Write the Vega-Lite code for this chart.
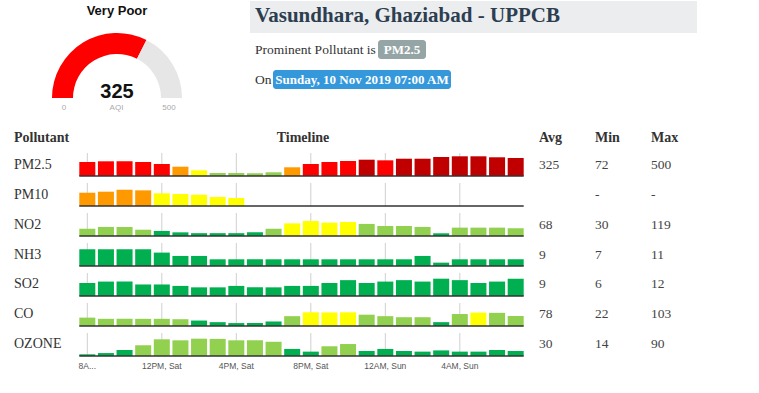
{
  "$schema": "https://vega.github.io/schema/vega-lite/v6.json",
  "width": 759,
  "height": 393,
  "autosize": {"type": "fit", "contains": "padding"},
  "padding": 0,
  "background": "white",
  "config": {"view": {"stroke": null}, "axis": {"disable": true}, "legend": {"disable": true}, "font": "Liberation Serif"},
  "datasets": {
    "bars": [
      {"p":"PM2.5","t":"8AM, Sat","v":355,"c":"Very Poor"},{"p":"PM2.5","t":"9AM, Sat","v":373,"c":"Very Poor"},{"p":"PM2.5","t":"10AM, Sat","v":373,"c":"Very Poor"},{"p":"PM2.5","t":"11AM, Sat","v":355,"c":"Very Poor"},{"p":"PM2.5","t":"12PM, Sat","v":305,"c":"Very Poor"},{"p":"PM2.5","t":"1PM, Sat","v":236,"c":"Poor"},{"p":"PM2.5","t":"2PM, Sat","v":145,"c":"Moderate"},{"p":"PM2.5","t":"3PM, Sat","v":76,"c":"Satisfactory"},{"p":"PM2.5","t":"4PM, Sat","v":76,"c":"Satisfactory"},{"p":"PM2.5","t":"5PM, Sat","v":72,"c":"Satisfactory"},{"p":"PM2.5","t":"6PM, Sat","v":94,"c":"Satisfactory"},{"p":"PM2.5","t":"7PM, Sat","v":221,"c":"Poor"},{"p":"PM2.5","t":"8PM, Sat","v":305,"c":"Very Poor"},{"p":"PM2.5","t":"9PM, Sat","v":355,"c":"Very Poor"},{"p":"PM2.5","t":"10PM, Sat","v":381,"c":"Very Poor"},{"p":"PM2.5","t":"11PM, Sat","v":414,"c":"Severe"},{"p":"PM2.5","t":"12AM, Sun","v":398,"c":"Very Poor"},{"p":"PM2.5","t":"1AM, Sun","v":439,"c":"Severe"},{"p":"PM2.5","t":"2AM, Sun","v":439,"c":"Severe"},{"p":"PM2.5","t":"3AM, Sun","v":482,"c":"Severe"},{"p":"PM2.5","t":"4AM, Sun","v":500,"c":"Severe"},{"p":"PM2.5","t":"5AM, Sun","v":500,"c":"Severe"},{"p":"PM2.5","t":"6AM, Sun","v":475,"c":"Severe"},{"p":"PM2.5","t":"7AM, Sun","v":457,"c":"Severe"},
      {"p":"PM10","t":"8AM, Sat","v":206,"c":"Poor"},{"p":"PM10","t":"9AM, Sat","v":222,"c":"Poor"},{"p":"PM10","t":"10AM, Sat","v":253,"c":"Poor"},{"p":"PM10","t":"11AM, Sat","v":243,"c":"Poor"},{"p":"PM10","t":"12PM, Sat","v":197,"c":"Moderate"},{"p":"PM10","t":"1PM, Sat","v":186,"c":"Moderate"},{"p":"PM10","t":"2PM, Sat","v":175,"c":"Moderate"},{"p":"PM10","t":"3PM, Sat","v":140,"c":"Moderate"},{"p":"PM10","t":"4PM, Sat","v":124,"c":"Moderate"},{"p":"PM10","t":"5PM, Sat","v":null},{"p":"PM10","t":"6PM, Sat","v":null},{"p":"PM10","t":"7PM, Sat","v":null},{"p":"PM10","t":"8PM, Sat","v":null},{"p":"PM10","t":"9PM, Sat","v":null},{"p":"PM10","t":"10PM, Sat","v":null},{"p":"PM10","t":"11PM, Sat","v":null},{"p":"PM10","t":"12AM, Sun","v":null},{"p":"PM10","t":"1AM, Sun","v":null},{"p":"PM10","t":"2AM, Sun","v":null},{"p":"PM10","t":"3AM, Sun","v":null},{"p":"PM10","t":"4AM, Sun","v":null},{"p":"PM10","t":"5AM, Sun","v":null},{"p":"PM10","t":"6AM, Sun","v":null},{"p":"PM10","t":"7AM, Sun","v":null},
      {"p":"NO2","t":"8AM, Sat","v":63,"c":"Satisfactory"},{"p":"NO2","t":"9AM, Sat","v":76,"c":"Satisfactory"},{"p":"NO2","t":"10AM, Sat","v":76,"c":"Satisfactory"},{"p":"NO2","t":"11AM, Sat","v":56,"c":"Satisfactory"},{"p":"NO2","t":"12PM, Sat","v":47,"c":"Good"},{"p":"NO2","t":"1PM, Sat","v":37,"c":"Good"},{"p":"NO2","t":"2PM, Sat","v":31,"c":"Good"},{"p":"NO2","t":"3PM, Sat","v":31,"c":"Good"},{"p":"NO2","t":"4PM, Sat","v":31,"c":"Good"},{"p":"NO2","t":"5PM, Sat","v":37,"c":"Good"},{"p":"NO2","t":"6PM, Sat","v":63,"c":"Satisfactory"},{"p":"NO2","t":"7PM, Sat","v":102,"c":"Moderate"},{"p":"NO2","t":"8PM, Sat","v":119,"c":"Moderate"},{"p":"NO2","t":"9PM, Sat","v":107,"c":"Moderate"},{"p":"NO2","t":"10PM, Sat","v":112,"c":"Moderate"},{"p":"NO2","t":"11PM, Sat","v":98,"c":"Satisfactory"},{"p":"NO2","t":"12AM, Sun","v":83,"c":"Satisfactory"},{"p":"NO2","t":"1AM, Sun","v":83,"c":"Satisfactory"},{"p":"NO2","t":"2AM, Sun","v":76,"c":"Satisfactory"},{"p":"NO2","t":"3AM, Sun","v":30,"c":"Good"},{"p":"NO2","t":"4AM, Sun","v":71,"c":"Satisfactory"},{"p":"NO2","t":"5AM, Sun","v":71,"c":"Satisfactory"},{"p":"NO2","t":"6AM, Sun","v":71,"c":"Satisfactory"},{"p":"NO2","t":"7AM, Sun","v":66,"c":"Satisfactory"},
      {"p":"NH3","t":"8AM, Sat","v":11,"c":"Good"},{"p":"NH3","t":"9AM, Sat","v":11,"c":"Good"},{"p":"NH3","t":"10AM, Sat","v":11,"c":"Good"},{"p":"NH3","t":"11AM, Sat","v":11,"c":"Good"},{"p":"NH3","t":"12PM, Sat","v":10,"c":"Good"},{"p":"NH3","t":"1PM, Sat","v":9,"c":"Good"},{"p":"NH3","t":"2PM, Sat","v":9,"c":"Good"},{"p":"NH3","t":"3PM, Sat","v":8,"c":"Good"},{"p":"NH3","t":"4PM, Sat","v":8,"c":"Good"},{"p":"NH3","t":"5PM, Sat","v":8,"c":"Good"},{"p":"NH3","t":"6PM, Sat","v":8,"c":"Good"},{"p":"NH3","t":"7PM, Sat","v":8,"c":"Good"},{"p":"NH3","t":"8PM, Sat","v":8,"c":"Good"},{"p":"NH3","t":"9PM, Sat","v":8,"c":"Good"},{"p":"NH3","t":"10PM, Sat","v":8,"c":"Good"},{"p":"NH3","t":"11PM, Sat","v":8,"c":"Good"},{"p":"NH3","t":"12AM, Sun","v":8,"c":"Good"},{"p":"NH3","t":"1AM, Sun","v":8,"c":"Good"},{"p":"NH3","t":"2AM, Sun","v":9,"c":"Good"},{"p":"NH3","t":"3AM, Sun","v":7,"c":"Good"},{"p":"NH3","t":"4AM, Sun","v":8,"c":"Good"},{"p":"NH3","t":"5AM, Sun","v":8,"c":"Good"},{"p":"NH3","t":"6AM, Sun","v":8,"c":"Good"},{"p":"NH3","t":"7AM, Sun","v":8,"c":"Good"},
      {"p":"SO2","t":"8AM, Sat","v":9,"c":"Good"},{"p":"SO2","t":"9AM, Sat","v":10,"c":"Good"},{"p":"SO2","t":"10AM, Sat","v":10,"c":"Good"},{"p":"SO2","t":"11AM, Sat","v":8,"c":"Good"},{"p":"SO2","t":"12PM, Sat","v":8,"c":"Good"},{"p":"SO2","t":"1PM, Sat","v":7,"c":"Good"},{"p":"SO2","t":"2PM, Sat","v":6,"c":"Good"},{"p":"SO2","t":"3PM, Sat","v":6,"c":"Good"},{"p":"SO2","t":"4PM, Sat","v":7,"c":"Good"},{"p":"SO2","t":"5PM, Sat","v":6,"c":"Good"},{"p":"SO2","t":"6PM, Sat","v":6,"c":"Good"},{"p":"SO2","t":"7PM, Sat","v":7,"c":"Good"},{"p":"SO2","t":"8PM, Sat","v":7,"c":"Good"},{"p":"SO2","t":"9PM, Sat","v":9,"c":"Good"},{"p":"SO2","t":"10PM, Sat","v":11,"c":"Good"},{"p":"SO2","t":"11PM, Sat","v":9,"c":"Good"},{"p":"SO2","t":"12AM, Sun","v":10,"c":"Good"},{"p":"SO2","t":"1AM, Sun","v":11,"c":"Good"},{"p":"SO2","t":"2AM, Sun","v":10,"c":"Good"},{"p":"SO2","t":"3AM, Sun","v":12,"c":"Good"},{"p":"SO2","t":"4AM, Sun","v":11,"c":"Good"},{"p":"SO2","t":"5AM, Sun","v":9,"c":"Good"},{"p":"SO2","t":"6AM, Sun","v":10,"c":"Good"},{"p":"SO2","t":"7AM, Sun","v":12,"c":"Good"},
      {"p":"CO","t":"8AM, Sat","v":63,"c":"Satisfactory"},{"p":"CO","t":"9AM, Sat","v":54,"c":"Satisfactory"},{"p":"CO","t":"10AM, Sat","v":54,"c":"Satisfactory"},{"p":"CO","t":"11AM, Sat","v":54,"c":"Satisfactory"},{"p":"CO","t":"12PM, Sat","v":54,"c":"Satisfactory"},{"p":"CO","t":"1PM, Sat","v":51,"c":"Satisfactory"},{"p":"CO","t":"2PM, Sat","v":41,"c":"Good"},{"p":"CO","t":"3PM, Sat","v":29,"c":"Good"},{"p":"CO","t":"4PM, Sat","v":22,"c":"Good"},{"p":"CO","t":"5PM, Sat","v":23,"c":"Good"},{"p":"CO","t":"6PM, Sat","v":34,"c":"Good"},{"p":"CO","t":"7PM, Sat","v":74,"c":"Satisfactory"},{"p":"CO","t":"8PM, Sat","v":103,"c":"Moderate"},{"p":"CO","t":"9PM, Sat","v":102,"c":"Moderate"},{"p":"CO","t":"10PM, Sat","v":103,"c":"Moderate"},{"p":"CO","t":"11PM, Sat","v":85,"c":"Satisfactory"},{"p":"CO","t":"12AM, Sun","v":74,"c":"Satisfactory"},{"p":"CO","t":"1AM, Sun","v":66,"c":"Satisfactory"},{"p":"CO","t":"2AM, Sun","v":66,"c":"Satisfactory"},{"p":"CO","t":"3AM, Sun","v":29,"c":"Good"},{"p":"CO","t":"4AM, Sun","v":90,"c":"Satisfactory"},{"p":"CO","t":"5AM, Sun","v":101,"c":"Moderate"},{"p":"CO","t":"6AM, Sun","v":99,"c":"Satisfactory"},{"p":"CO","t":"7AM, Sun","v":76,"c":"Satisfactory"},
      {"p":"OZONE","t":"8AM, Sat","v":14,"c":"Good"},{"p":"OZONE","t":"9AM, Sat","v":20,"c":"Good"},{"p":"OZONE","t":"10AM, Sat","v":35,"c":"Good"},{"p":"OZONE","t":"11AM, Sat","v":58,"c":"Satisfactory"},{"p":"OZONE","t":"12PM, Sat","v":87,"c":"Satisfactory"},{"p":"OZONE","t":"1PM, Sat","v":82,"c":"Satisfactory"},{"p":"OZONE","t":"2PM, Sat","v":90,"c":"Satisfactory"},{"p":"OZONE","t":"3PM, Sat","v":89,"c":"Satisfactory"},{"p":"OZONE","t":"4PM, Sat","v":82,"c":"Satisfactory"},{"p":"OZONE","t":"5PM, Sat","v":82,"c":"Satisfactory"},{"p":"OZONE","t":"6PM, Sat","v":75,"c":"Satisfactory"},{"p":"OZONE","t":"7PM, Sat","v":40,"c":"Good"},{"p":"OZONE","t":"8PM, Sat","v":27,"c":"Good"},{"p":"OZONE","t":"9PM, Sat","v":53,"c":"Satisfactory"},{"p":"OZONE","t":"10PM, Sat","v":64,"c":"Satisfactory"},{"p":"OZONE","t":"11PM, Sat","v":30,"c":"Good"},{"p":"OZONE","t":"12AM, Sun","v":40,"c":"Good"},{"p":"OZONE","t":"1AM, Sun","v":30,"c":"Good"},{"p":"OZONE","t":"2AM, Sun","v":27,"c":"Good"},{"p":"OZONE","t":"3AM, Sun","v":33,"c":"Good"},{"p":"OZONE","t":"4AM, Sun","v":27,"c":"Good"},{"p":"OZONE","t":"5AM, Sun","v":27,"c":"Good"},{"p":"OZONE","t":"6AM, Sun","v":35,"c":"Good"},{"p":"OZONE","t":"7AM, Sun","v":30,"c":"Good"}
    ],
    "stats": [
      {"p":"PM2.5","stat":"Avg","s":"325"},{"p":"PM2.5","stat":"Min","s":"72"},{"p":"PM2.5","stat":"Max","s":"500"},
      {"p":"PM10","stat":"Avg","s":""},{"p":"PM10","stat":"Min","s":"-"},{"p":"PM10","stat":"Max","s":"-"},
      {"p":"NO2","stat":"Avg","s":"68"},{"p":"NO2","stat":"Min","s":"30"},{"p":"NO2","stat":"Max","s":"119"},
      {"p":"NH3","stat":"Avg","s":"9"},{"p":"NH3","stat":"Min","s":"7"},{"p":"NH3","stat":"Max","s":"11"},
      {"p":"SO2","stat":"Avg","s":"9"},{"p":"SO2","stat":"Min","s":"6"},{"p":"SO2","stat":"Max","s":"12"},
      {"p":"CO","stat":"Avg","s":"78"},{"p":"CO","stat":"Min","s":"22"},{"p":"CO","stat":"Max","s":"103"},
      {"p":"OZONE","stat":"Avg","s":"30"},{"p":"OZONE","stat":"Min","s":"14"},{"p":"OZONE","stat":"Max","s":"90"}
    ],
    "ticklabels": [
      {"t":"8AM, Sat","lab":"8A..."},{"t":"12PM, Sat","lab":"12PM, Sat"},{"t":"4PM, Sat","lab":"4PM, Sat"},
      {"t":"8PM, Sat","lab":"8PM, Sat"},{"t":"12AM, Sun","lab":"12AM, Sun"},{"t":"4AM, Sun","lab":"4AM, Sun"}
    ]
  },
  "resolve": {"scale": {"x": "independent", "y": "independent", "color": "independent"}},
  "layer": [
    {"data": {"values": [{}]}, "mark": {"type": "rule", "x": 8, "y": 0, "y2": 391, "color": "#e8e8e8", "strokeWidth": 1}, "encoding": {}},
    {"data": {"values": [{}]}, "mark": {"type": "rule", "x": 8, "x2": 706, "y": 391, "color": "#e8e8e8", "strokeWidth": 1}, "encoding": {}},
    {"data": {"values": [{}]}, "mark": {"type": "rect", "x": 249, "x2": 696, "y": 0, "y2": 32, "fill": "#ebedef"}, "encoding": {}},
    {"data": {"values": [{}]}, "mark": {"type": "rect", "x": 377, "x2": 425, "y": 39, "y2": 58, "fill": "#95a5a6", "cornerRadius": 3}, "encoding": {}},
    {"data": {"values": [{}]}, "mark": {"type": "rect", "x": 272, "x2": 450, "y": 69, "y2": 88, "fill": "#3498db", "cornerRadius": 3}, "encoding": {}},
    {"data": {"values": [{"t": "Vasundhara, Ghaziabad - UPPCB"}]}, "mark": {"type": "text", "x": 254, "y": 15, "align": "left", "baseline": "middle", "font": "Liberation Serif", "fontSize": 21, "fontWeight": "bold", "color": "#2c3e50"}, "encoding": {"text": {"field": "t"}}},
    {"data": {"values": [{"t": "Prominent Pollutant is"}]}, "mark": {"type": "text", "x": 254, "y": 48.5, "align": "left", "baseline": "middle", "font": "Liberation Serif", "fontSize": 13.5, "color": "#333333"}, "encoding": {"text": {"field": "t"}}},
    {"data": {"values": [{"t": "PM2.5"}]}, "mark": {"type": "text", "x": 401, "y": 48.5, "align": "center", "baseline": "middle", "font": "Liberation Serif", "fontSize": 13, "fontWeight": "bold", "color": "white"}, "encoding": {"text": {"field": "t"}}},
    {"data": {"values": [{"t": "On"}]}, "mark": {"type": "text", "x": 254, "y": 78.5, "align": "left", "baseline": "middle", "font": "Liberation Serif", "fontSize": 13.5, "color": "#333333"}, "encoding": {"text": {"field": "t"}}},
    {"data": {"values": [{"t": "Sunday, 10 Nov 2019 07:00 AM"}]}, "mark": {"type": "text", "x": 361, "y": 78.5, "align": "center", "baseline": "middle", "font": "Liberation Serif", "fontSize": 13, "fontWeight": "bold", "color": "white"}, "encoding": {"text": {"field": "t"}}},
    {"data": {"values": [{"t": "Very Poor"}]}, "mark": {"type": "text", "x": 116, "y": 10, "align": "center", "baseline": "middle", "font": "Liberation Sans", "fontSize": 13, "fontWeight": "bold", "color": "#111111"}, "encoding": {"text": {"field": "t"}}},
    {
      "data": {"values": [{"part": "AQI", "from": 0, "to": 325}, {"part": "rest", "from": 325, "to": 500}]},
      "mark": {"type": "arc", "x": 116, "y": 97, "radius": 65, "radius2": 44},
      "encoding": {
        "theta": {"field": "from", "type": "quantitative", "stack": null, "scale": {"domain": [0, 500], "range": [-1.5708, 1.5708]}},
        "theta2": {"field": "to"},
        "color": {"field": "part", "type": "nominal", "scale": {"domain": ["AQI", "rest"], "range": ["#ff0000", "#e6e6e6"]}, "legend": null}
      }
    },
    {"data": {"values": [{"aqi": 325}]}, "mark": {"type": "text", "x": 116, "y": 96.5, "align": "center", "baseline": "alphabetic", "font": "Liberation Sans", "fontSize": 20, "fontWeight": "bold", "color": "#111111"}, "encoding": {"text": {"field": "aqi", "type": "quantitative"}}},
    {
      "data": {"values": [{"l": "0", "a": 0}, {"l": "AQI", "a": 250}, {"l": "500", "a": 500}]},
      "mark": {"type": "text", "y": 107, "align": "center", "baseline": "middle", "font": "Liberation Sans", "fontSize": 8, "color": "#aaaaaa"},
      "encoding": {"x": {"field": "a", "type": "quantitative", "scale": {"domain": [0, 500], "range": [63, 168], "nice": false, "zero": false}, "axis": null}, "text": {"field": "l"}}
    },
    {"data": {"values": [{"t": "Pollutant"}]}, "mark": {"type": "text", "x": 13, "y": 137, "align": "left", "baseline": "middle", "font": "Liberation Serif", "fontSize": 14, "fontWeight": "bold", "color": "#333333"}, "encoding": {"text": {"field": "t"}}},
    {"data": {"values": [{"t": "Timeline"}]}, "mark": {"type": "text", "x": 302, "y": 137, "align": "center", "baseline": "middle", "font": "Liberation Serif", "fontSize": 14, "fontWeight": "bold", "color": "#333333"}, "encoding": {"text": {"field": "t"}}},
    {
      "data": {"values": [{"h": "Avg"}, {"h": "Min"}, {"h": "Max"}]},
      "mark": {"type": "text", "y": 137, "align": "left", "baseline": "middle", "font": "Liberation Serif", "fontSize": 14, "fontWeight": "bold", "color": "#333333"},
      "encoding": {"x": {"field": "h", "type": "nominal", "scale": {"type": "point", "domain": ["Avg", "Min", "Max"], "range": [538, 650], "padding": 0}, "axis": null}, "text": {"field": "h"}}
    },
    {
      "encoding": {"x": {"field": "t", "type": "nominal", "axis": null, "scale": {"type": "band", "range": [78.3, 522.7], "paddingInner": 0.14, "paddingOuter": 0, "domain": ["8AM, Sat","9AM, Sat","10AM, Sat","11AM, Sat","12PM, Sat","1PM, Sat","2PM, Sat","3PM, Sat","4PM, Sat","5PM, Sat","6PM, Sat","7PM, Sat","8PM, Sat","9PM, Sat","10PM, Sat","11PM, Sat","12AM, Sun","1AM, Sun","2AM, Sun","3AM, Sun","4AM, Sun","5AM, Sun","6AM, Sun","7AM, Sun"]}}},
      "resolve": {"scale": {"y": "independent"}},
      "layer": [
        {
          "data": {"name": "bars"},
          "transform": [{"filter": {"field": "t", "oneOf": ["8AM, Sat", "12PM, Sat", "4PM, Sat", "8PM, Sat", "12AM, Sun", "4AM, Sun"]}}],
          "mark": {"type": "bar", "width": 1, "color": "#cfcfcf"},
          "encoding": {"y": {"field": "p", "type": "nominal", "axis": null, "scale": {"type": "band", "domain": ["PM2.5", "PM10", "NO2", "NH3", "SO2", "CO", "OZONE"], "range": [152, 355], "paddingInner": 0.233, "paddingOuter": 0}}}
        },
        {
          "data": {"name": "bars"}, "transform": [{"filter": "datum.p == 'PM2.5' && isValid(datum.v)"}], "mark": "bar",
          "encoding": {
            "y": {"field": "v", "type": "quantitative", "axis": null, "scale": {"domain": [0, 584], "range": [175, 152], "nice": false, "zero": false}},
            "y2": {"datum": 0},
            "color": {"field": "c", "type": "nominal", "legend": null, "scale": {"domain": ["Good", "Satisfactory", "Moderate", "Poor", "Very Poor", "Severe"], "range": ["#00b050", "#92d050", "#ffff00", "#ff9900", "#ff0000", "#c00000"]}}
          }
        },
        {
          "data": {"name": "bars"}, "transform": [{"filter": "datum.p == 'PM10' && isValid(datum.v)"}], "mark": "bar",
          "encoding": {
            "y": {"field": "v", "type": "quantitative", "axis": null, "scale": {"domain": [0, 357], "range": [205, 182], "nice": false, "zero": false}},
            "y2": {"datum": 0},
            "color": {"field": "c", "type": "nominal", "legend": null, "scale": {"domain": ["Good", "Satisfactory", "Moderate", "Poor", "Very Poor", "Severe"], "range": ["#00b050", "#92d050", "#ffff00", "#ff9900", "#ff0000", "#c00000"]}}
          }
        },
        {
          "data": {"name": "bars"}, "transform": [{"filter": "datum.p == 'NO2' && isValid(datum.v)"}], "mark": "bar",
          "encoding": {
            "y": {"field": "v", "type": "quantitative", "axis": null, "scale": {"domain": [10.5, 177], "range": [235, 212], "nice": false, "zero": false}},
            "y2": {"datum": 10.5},
            "color": {"field": "c", "type": "nominal", "legend": null, "scale": {"domain": ["Good", "Satisfactory", "Moderate", "Poor", "Very Poor", "Severe"], "range": ["#00b050", "#92d050", "#ffff00", "#ff9900", "#ff0000", "#c00000"]}}
          }
        },
        {
          "data": {"name": "bars"}, "transform": [{"filter": "datum.p == 'NH3' && isValid(datum.v)"}], "mark": "bar",
          "encoding": {
            "y": {"field": "v", "type": "quantitative", "axis": null, "scale": {"domain": [6, 12.87], "range": [265, 242], "nice": false, "zero": false}},
            "y2": {"datum": 6},
            "color": {"field": "c", "type": "nominal", "legend": null, "scale": {"domain": ["Good", "Satisfactory", "Moderate", "Poor", "Very Poor", "Severe"], "range": ["#00b050", "#92d050", "#ffff00", "#ff9900", "#ff0000", "#c00000"]}}
          }
        },
        {
          "data": {"name": "bars"}, "transform": [{"filter": "datum.p == 'SO2' && isValid(datum.v)"}], "mark": "bar",
          "encoding": {
            "y": {"field": "v", "type": "quantitative", "axis": null, "scale": {"domain": [0, 15.95], "range": [295, 272], "nice": false, "zero": false}},
            "y2": {"datum": 0},
            "color": {"field": "c", "type": "nominal", "legend": null, "scale": {"domain": ["Good", "Satisfactory", "Moderate", "Poor", "Very Poor", "Severe"], "range": ["#00b050", "#92d050", "#ffff00", "#ff9900", "#ff0000", "#c00000"]}}
          }
        },
        {
          "data": {"name": "bars"}, "transform": [{"filter": "datum.p == 'CO' && isValid(datum.v)"}], "mark": "bar",
          "encoding": {
            "y": {"field": "v", "type": "quantitative", "axis": null, "scale": {"domain": [0, 173], "range": [325, 302], "nice": false, "zero": false}},
            "y2": {"datum": 0},
            "color": {"field": "c", "type": "nominal", "legend": null, "scale": {"domain": ["Good", "Satisfactory", "Moderate", "Poor", "Very Poor", "Severe"], "range": ["#00b050", "#92d050", "#ffff00", "#ff9900", "#ff0000", "#c00000"]}}
          }
        },
        {
          "data": {"name": "bars"}, "transform": [{"filter": "datum.p == 'OZONE' && isValid(datum.v)"}], "mark": "bar",
          "encoding": {
            "y": {"field": "v", "type": "quantitative", "axis": null, "scale": {"domain": [5.7, 117.7], "range": [355, 332], "nice": false, "zero": false}},
            "y2": {"datum": 5.7},
            "color": {"field": "c", "type": "nominal", "legend": null, "scale": {"domain": ["Good", "Satisfactory", "Moderate", "Poor", "Very Poor", "Severe"], "range": ["#00b050", "#92d050", "#ffff00", "#ff9900", "#ff0000", "#c00000"]}}
          }
        },
        {
          "data": {"name": "ticklabels"},
          "mark": {"type": "text", "y": 365, "align": "center", "baseline": "middle", "font": "Liberation Sans", "fontSize": 8.5, "color": "#555555"},
          "encoding": {"text": {"field": "lab"}}
        }
      ]
    },
    {
      "data": {"name": "stats"}, "transform": [{"filter": "datum.stat == 'Avg'"}],
      "mark": {"type": "rule", "color": "#333333", "strokeWidth": 1.3},
      "encoding": {
        "x": {"datum": 0, "type": "quantitative", "axis": null, "scale": {"domain": [0, 24], "range": [78.3, 522.7], "nice": false, "zero": false}},
        "x2": {"datum": 24},
        "y": {"field": "p", "type": "nominal", "bandPosition": 1, "axis": null, "scale": {"type": "band", "domain": ["PM2.5", "PM10", "NO2", "NH3", "SO2", "CO", "OZONE"], "range": [152, 355], "paddingInner": 0.233, "paddingOuter": 0}}
      }
    },
    {
      "data": {"name": "stats"}, "transform": [{"filter": "datum.stat == 'Avg'"}],
      "mark": {"type": "text", "x": 13, "align": "left", "baseline": "middle", "font": "Liberation Serif", "fontSize": 14, "color": "#333333"},
      "encoding": {
        "y": {"field": "p", "type": "nominal", "axis": null, "scale": {"type": "band", "domain": ["PM2.5", "PM10", "NO2", "NH3", "SO2", "CO", "OZONE"], "range": [152, 355], "paddingInner": 0.233, "paddingOuter": 0}},
        "text": {"field": "p"}
      }
    },
    {
      "data": {"name": "stats"},
      "mark": {"type": "text", "align": "left", "baseline": "middle", "font": "Liberation Serif", "fontSize": 13.5, "color": "#444444"},
      "encoding": {
        "x": {"field": "stat", "type": "nominal", "axis": null, "scale": {"type": "point", "domain": ["Avg", "Min", "Max"], "range": [538, 650], "padding": 0}},
        "y": {"field": "p", "type": "nominal", "axis": null, "scale": {"type": "band", "domain": ["PM2.5", "PM10", "NO2", "NH3", "SO2", "CO", "OZONE"], "range": [152, 355], "paddingInner": 0.233, "paddingOuter": 0}},
        "text": {"field": "s"}
      }
    }
  ]
}
